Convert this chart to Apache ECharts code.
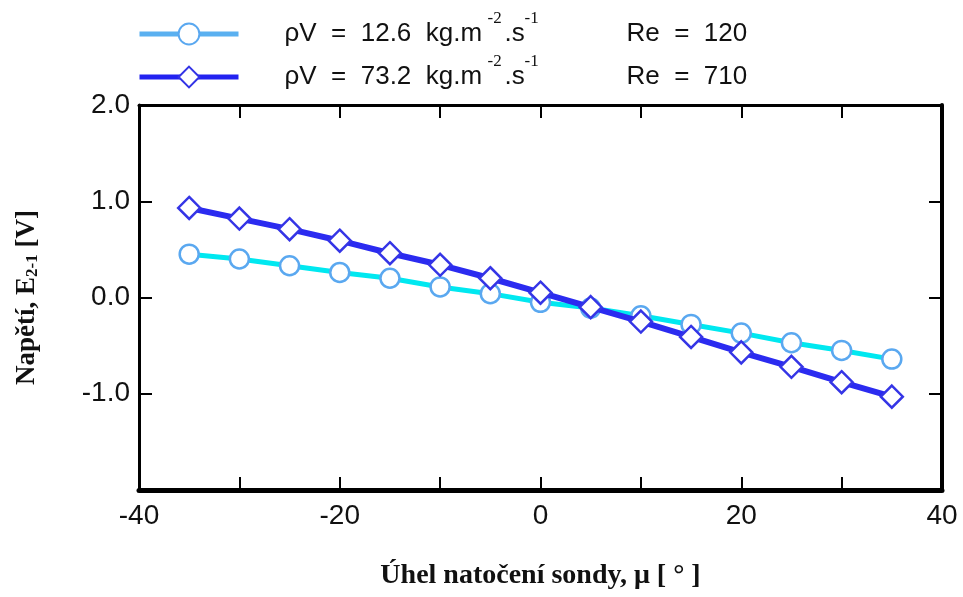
<!DOCTYPE html>
<html><head><meta charset="utf-8">
<script src="https://cdn.jsdelivr.net/npm/echarts@6/dist/echarts.min.js"></script>
<style>html,body{margin:0;padding:0;background:#fff}#c{width:963px;height:597px}</style>
</head><body><div id="c"></div>
<script>
// ---- data ----
const angles = [-35, -30, -25, -20, -15, -10, -5, 0, 5, 10, 15, 20, 25, 30, 35];
const voltageLow  = [0.45, 0.40, 0.33, 0.26, 0.20, 0.11, 0.04, -0.05, -0.11, -0.19, -0.28, -0.37, -0.47, -0.55, -0.64];
const voltageHigh = [0.93, 0.82, 0.71, 0.59, 0.46, 0.34, 0.20, 0.05, -0.10, -0.25, -0.41, -0.57, -0.72, -0.88, -1.03];
const massFlux = ['12.6', '73.2'];
const reynolds = ['120', '710'];
const xTickLabels = [-40, -20, 0, 20, 40];
const yTickLabels = ['2.0', '1.0', '0.0', '-1.0'];
const seriesNames = massFlux.map((m, i) => 'ρV = ' + m + ' kg.m-2.s-1, Re = ' + reynolds[i]);

const pairs = vals => angles.map((a, i) => [a, vals[i]]);
const SANS = 'Liberation Sans, Arial, sans-serif';
const SERIF = 'Liberation Serif, Times New Roman, serif';
const diamond = 'path://M10 0 L20 10 L10 20 L0 10 Z';

const legendFormatter = name => {
  const i = seriesNames.indexOf(name);
  return '{sp| }{a|ρV  =  ' + massFlux[i] + '  kg.m}{sup|-2}{b|.s}{sup2|-1}{re|Re  =  ' + reynolds[i] + '}';
};
const legendText = {
  fontFamily: SANS, fontSize: 26, color: '#111',
  rich: {
    sp: { width: 41 },
    a: { width: 203 },
    sup: { width: 17, fontFamily: SERIF, fontSize: 17, lineHeight: 17, padding: [0, 0, 31, 0] },
    b: { width: 20 },
    sup2: { width: 102, fontFamily: SERIF, fontSize: 17, lineHeight: 17, padding: [0, 0, 31, 0] },
    re: {}
  }
};
const mkLegend = (i, top, lineColor, borderColor) => ({
  data: [{ name: seriesNames[i], lineStyle: { color: lineColor, width: 5 }, itemStyle: { color: '#fff', borderColor: borderColor, borderWidth: 2 } }],
  left: 137, top: top, padding: 0, itemWidth: 99, itemHeight: 26,
  formatter: legendFormatter, textStyle: legendText, selectedMode: false
});

const frameLine = w => ({ show: true, onZero: false, lineStyle: { color: '#000', width: w } });
const tick = { show: true, inside: true, length: 13, lineStyle: { color: '#000', width: 2 } };

const option = {
  backgroundColor: '#fff',
  animation: false,
  grid: { left: 139, right: 21, top: 105, bottom: 107, outerBoundsMode: 'none' },
  legend: [
    mkLegend(0, 10, '#5ab0f0', '#5aa8f0'),
    mkLegend(1, 53, '#2222f0', '#3333e6')
  ],
  xAxis: [{
    type: 'value', min: -40, max: 40, interval: 10, position: 'bottom',
    axisLine: frameLine(5), axisTick: tick, splitLine: { show: false },
    axisLabel: { margin: 12, fontSize: 28, fontFamily: SANS, color: '#111',
      formatter: v => xTickLabels.includes(v) ? String(v) : '' },
    name: 'Úhel natočení sondy, μ [ ° ]', nameLocation: 'middle', nameGap: 72,
    nameTextStyle: { fontFamily: SERIF, fontWeight: 'bold', fontSize: 28, color: '#111' }
  }, {
    type: 'value', min: -40, max: 40, interval: 10, position: 'top',
    axisLine: frameLine(3), axisTick: tick, axisLabel: { show: false }, splitLine: { show: false }
  }],
  yAxis: [{
    type: 'value', min: -2, max: 2, interval: 1, position: 'left',
    axisLine: frameLine(3), axisTick: tick, splitLine: { show: false },
    axisLabel: { margin: 9, fontSize: 28, fontFamily: SANS, color: '#111',
      formatter: v => { const s = v.toFixed(1); return yTickLabels.includes(s) ? s : ''; } },
    name: 'Napětí, E{sub|2-1} [V]', nameLocation: 'middle', nameGap: 98,
    nameTextStyle: { fontFamily: SERIF, fontWeight: 'bold', fontSize: 27, color: '#111',
      rich: { sub: { fontFamily: SERIF, fontWeight: 'bold', fontSize: 17, padding: [10, 0, 0, 0] } } }
  }, {
    type: 'value', min: -2, max: 2, interval: 1, position: 'right',
    axisLine: frameLine(4), axisTick: tick, axisLabel: { show: false }, splitLine: { show: false }
  }],
  series: [{
    name: seriesNames[0], type: 'line', data: pairs(voltageLow),
    lineStyle: { color: '#00e8f0', width: 5 },
    symbol: 'circle', symbolSize: 19, showAllSymbol: true,
    itemStyle: { color: '#fff', borderColor: '#5aa8f0', borderWidth: 2.5 },
    z: 2
  }, {
    name: seriesNames[1], type: 'line', data: pairs(voltageHigh),
    lineStyle: { color: '#2b2bf0', width: 6 },
    symbol: diamond, symbolSize: 22, showAllSymbol: true,
    itemStyle: { color: '#fff', borderColor: '#3535e6', borderWidth: 2.5 },
    z: 3
  }]
};
const chart = echarts.init(document.getElementById('c'), null, { renderer: 'canvas' });
chart.setOption(option);
</script>
</body></html>
